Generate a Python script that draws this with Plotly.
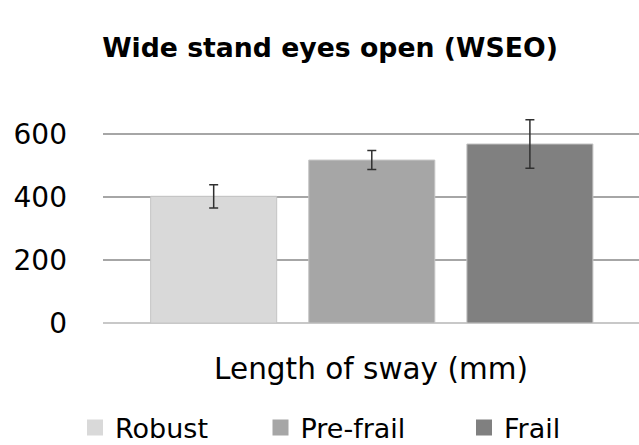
import plotly.graph_objects as go

categories = ["Robust", "Pre-frail", "Frail"]
values = [402, 517, 568]
errors = [37, 30, 77]
colors = ["#d9d9d9", "#a6a6a6", "#808080"]
y_ticks = [0, 200, 400, 600]

FONT = "DejaVu Sans, Verdana, sans-serif"
W, H = 639, 445

fig = go.Figure()
legend_names = ["legend", "legend2", "legend3"]
for i, (cat, v, e, c) in enumerate(zip(categories, values, errors, colors)):
    fig.add_trace(go.Bar(
        x=[i], y=[v], name=cat, showlegend=False,
        marker=dict(color=c, line=dict(color="#c4c4c4", width=1)),
        width=0.797,
        error_y=dict(type="data", array=[e], color="#303030", thickness=1.5, width=4.5),
    ))
    # legend entry (square swatch) for the same series
    fig.add_trace(go.Scatter(
        x=[None], y=[None], name=cat, mode="markers",
        marker=dict(symbol="square", size=16, color=c, line=dict(width=0)),
        legend=legend_names[i], showlegend=True,
    ))

leg_common = dict(orientation="h", font=dict(family=FONT, size=27, color="#000000"),
                  bgcolor="rgba(0,0,0,0)", yanchor="middle", xanchor="left",
                  xref="container", yref="container", itemsizing="trace")
leg_x = [75, 260.5, 464]
layout_legends = {}
for name, lx in zip(legend_names, leg_x):
    layout_legends[name] = dict(leg_common, x=lx / W, y=17 / H)

fig.update_layout(
    width=W, height=H,
    margin=dict(l=103, r=0, t=115.4, b=121.7, autoexpand=False),
    plot_bgcolor="white", paper_bgcolor="white",
    barmode="overlay",
    showlegend=True,
    title=dict(text="<b>Wide stand eyes open (WSEO)</b>", x=330 / W, xanchor="center",
               y=(H - 47.5) / H, yanchor="middle",
               font=dict(family=FONT, size=26.7, color="#000000")),
    xaxis=dict(range=[-0.70, 2.69], showticklabels=False, showgrid=False, zeroline=False,
               showline=False, ticks="",
               title=dict(text="Length of sway (mm)", standoff=35,
                          font=dict(family=FONT, size=29.5, color="#000000"))),
    yaxis=dict(range=[0, 660], tickvals=y_ticks, showgrid=True, gridcolor="#a6a6a6",
               gridwidth=1.5, zeroline=True, zerolinecolor="#c8c8c8", zerolinewidth=2,
               showline=False, ticks="", ticklabelstandoff=35,
               tickfont=dict(family=FONT, size=28, color="#000000")),
    **layout_legends,
)

fig.write_html("out.html",
               config={"displayModeBar": False},
               post_script="document.body.style.margin='0';document.body.style.overflow='hidden';")
